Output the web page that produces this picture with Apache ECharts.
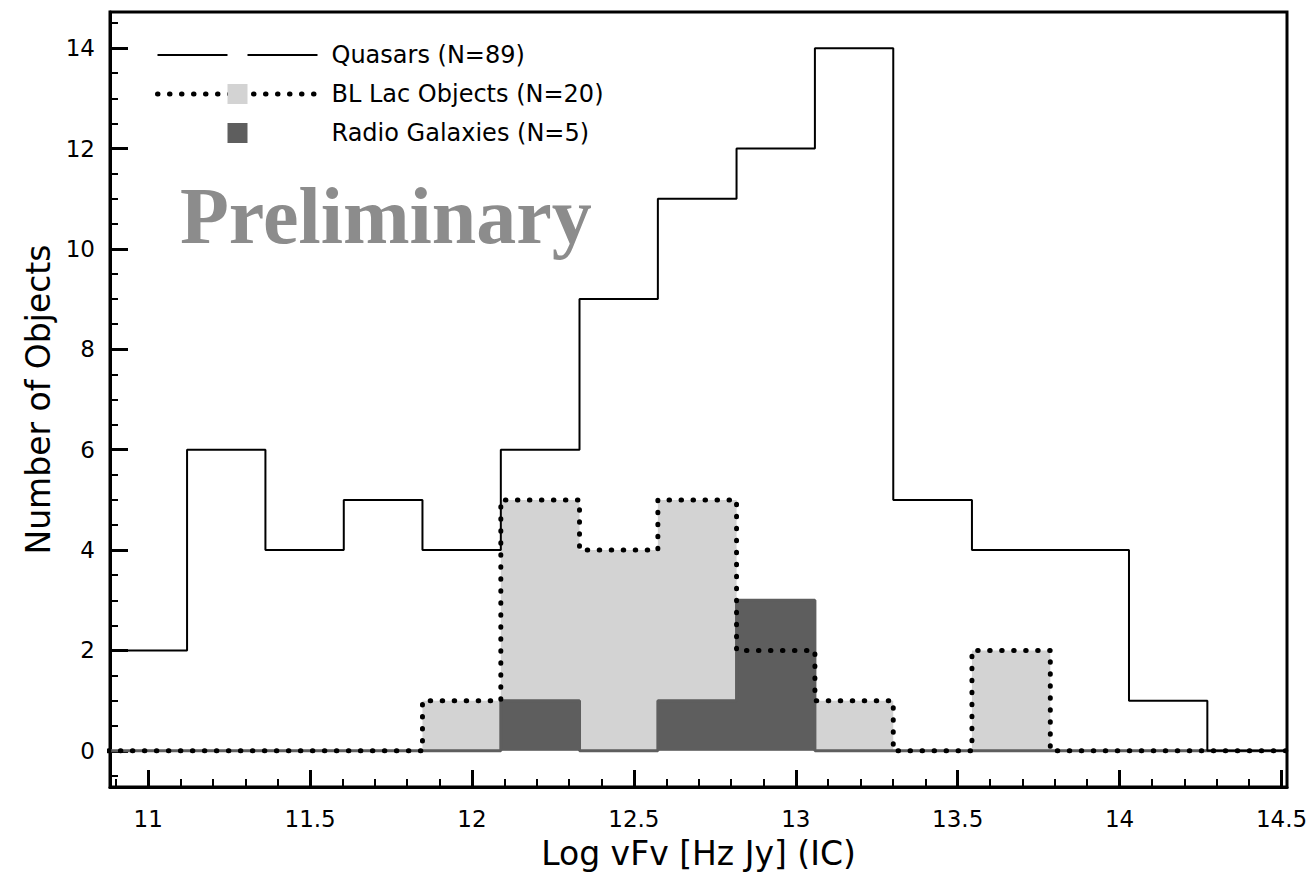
<!DOCTYPE html>
<html>
<head>
<meta charset="utf-8">
<title>Log vFv (IC) distribution</title>
<script src="https://cdn.jsdelivr.net/npm/echarts@6/dist/echarts.min.js"></script>
<style>
  html, body { margin: 0; padding: 0; background: #ffffff; }
  #chart { width: 1307px; height: 874px; }
</style>
</head>
<body>
<div id="chart"></div>
<script>
// Histogram bin edges (Log vFv) and object counts per bin
const binEdges = [10.877, 11.120, 11.362, 11.604, 11.847, 12.089, 12.332, 12.574,
                  12.817, 13.059, 13.301, 13.544, 13.786, 14.029, 14.271, 14.514];
const quasarCounts      = [2, 6, 4, 5, 4, 6, 9, 11, 12, 14, 5, 4, 4, 1, 0];
const blLacCounts       = [0, 0, 0, 0, 1, 5, 4, 5, 2, 1, 0, 2, 0, 0, 0];
const radioGalaxyCounts = [0, 0, 0, 0, 0, 1, 0, 1, 3, 0, 0, 0, 0, 0, 0];

const seriesNames = ['Quasars (N=89)', 'BL Lac Objects (N=20)', 'Radio Galaxies (N=5)'];

// Axis ticks and labels
const xMajorTicks = [11, 11.5, 12, 12.5, 13, 13.5, 14, 14.5];
const xMinorTicks = [10.9, 11.1, 11.2, 11.3, 11.4, 11.6, 11.7, 11.8, 11.9, 12.1, 12.2, 12.3, 12.4,
                     12.6, 12.7, 12.8, 12.9, 13.1, 13.2, 13.3, 13.4, 13.6, 13.7, 13.8, 13.9,
                     14.1, 14.2, 14.3, 14.4];
const yMajorTicks = [0, 2, 4, 6, 8, 10, 12, 14];
const yMinorTicks = [-0.5, 0.5, 1, 1.5, 2.5, 3, 3.5, 4.5, 5, 5.5, 6.5, 7, 7.5, 8.5, 9, 9.5,
                     10.5, 11, 11.5, 12.5, 13, 13.5, 14.5];

const xRange = [10.882, 14.517];
const yRange = [-0.72, 14.72];

const FONT = 'DejaVu Sans';
const LIGHT = '#d3d3d3';
const DARK = '#5e5e5e';
const DOTTED = { color: '#000', width: 5, type: [0.5, 11.5], cap: 'round' };

// Turn bin edges + counts into step points: [left edge, count] ... [last right edge, last count]
function stepPoints(counts) {
  const pts = counts.map((c, i) => [binEdges[i], c]);
  pts.push([binEdges[counts.length], counts[counts.length - 1]]);
  return pts;
}

const baseSeries = {
  type: 'line',
  step: 'end',
  xAxisIndex: 0,
  yAxisIndex: 0,
  showSymbol: false,
  symbol: 'rect',
  silent: true,
  animation: false,
  emphasis: { disabled: true }
};

const chart = echarts.init(document.getElementById('chart'), null, { renderer: 'svg' });

chart.setOption({
  backgroundColor: '#ffffff',
  animation: false,
  grid: {
    left: 110, right: 20, top: 12, bottom: 87,
    containLabel: false,
    outerBoundsMode: 'none',
    show: true,
    borderColor: '#000',
    borderWidth: 3
  },
  legend: {
    orient: 'vertical',
    left: 150,
    top: 38,
    itemWidth: 160,
    itemHeight: 25,
    itemGap: 15,
    selectedMode: false,
    itemStyle: { borderWidth: 0 },
    textStyle: { fontFamily: FONT, fontSize: 24, color: '#000', padding: [0, 0, 0, 9] },
    data: [
      { name: seriesNames[0] },
      { name: seriesNames[1], lineStyle: DOTTED },
      { name: seriesNames[2], lineStyle: { opacity: 0, color: 'rgba(0,0,0,0)' } }
    ]
  },
  xAxis: [
    {
      type: 'value',
      min: xRange[0], max: xRange[1],
      position: 'bottom',
      name: 'Log vFv [Hz Jy] (IC)',
      nameLocation: 'middle',
      nameGap: 50,
      nameTextStyle: { fontFamily: FONT, fontSize: 33, color: '#000' },
      axisLine: { show: true, onZero: false, lineStyle: { color: '#000', width: 3 } },
      axisTick: { show: true, inside: true, length: 17, customValues: xMajorTicks,
                  lineStyle: { color: '#000', width: 3 } },
      axisLabel: { show: true, customValues: xMajorTicks, margin: 20,
                   fontFamily: FONT, fontSize: 23, color: '#000' },
      splitLine: { show: false }
    },
    {
      type: 'value',
      min: xRange[0], max: xRange[1],
      position: 'bottom',
      axisLine: { show: false, onZero: false },
      axisTick: { show: true, inside: true, length: 8, customValues: xMinorTicks,
                  lineStyle: { color: '#000', width: 2 } },
      axisLabel: { show: false },
      splitLine: { show: false }
    }
  ],
  yAxis: [
    {
      type: 'value',
      min: yRange[0], max: yRange[1],
      position: 'left',
      name: 'Number of Objects',
      nameLocation: 'middle',
      nameGap: 52,
      nameRotate: 90,
      nameTextStyle: { fontFamily: FONT, fontSize: 33, color: '#000' },
      axisLine: { show: true, onZero: false, lineStyle: { color: '#000', width: 3 } },
      axisTick: { show: true, inside: true, length: 18, customValues: yMajorTicks,
                  lineStyle: { color: '#000', width: 3 } },
      axisLabel: { show: true, customValues: yMajorTicks, margin: 15,
                   fontFamily: FONT, fontSize: 23, color: '#000' },
      splitLine: { show: false }
    },
    {
      type: 'value',
      min: yRange[0], max: yRange[1],
      position: 'left',
      axisLine: { show: false, onZero: false },
      axisTick: { show: true, inside: true, length: 8, customValues: yMinorTicks,
                  lineStyle: { color: '#000', width: 2 } },
      axisLabel: { show: false },
      splitLine: { show: false }
    }
  ],
  graphic: [
    {
      type: 'text',
      left: 180,
      top: 176,
      silent: true,
      style: {
        text: 'Preliminary',
        fontFamily: 'Liberation Serif',
        fontWeight: 'bold',
        fontSize: 80,
        fill: '#8c8c8c'
      }
    }
  ],
  series: [
    // light fill under the BL Lac histogram
    Object.assign({}, baseSeries, {
      name: 'BL Lac fill',
      symbol: 'none',
      z: 2,
      data: stepPoints(blLacCounts),
      lineStyle: { width: 0, opacity: 0 },
      areaStyle: { color: LIGHT, opacity: 1 }
    }),
    // radio galaxies: dark filled histogram
    Object.assign({}, baseSeries, {
      name: seriesNames[2],
      z: 3,
      data: stepPoints(radioGalaxyCounts),
      itemStyle: { color: DARK, borderWidth: 0 },
      lineStyle: { color: DARK, width: 3 },
      areaStyle: { color: DARK, opacity: 1 }
    }),
    // BL Lac outline, dotted
    Object.assign({}, baseSeries, {
      name: seriesNames[1],
      z: 4,
      data: stepPoints(blLacCounts),
      itemStyle: { color: LIGHT, borderWidth: 0 },
      lineStyle: DOTTED
    }),
    // quasars: solid outline only
    Object.assign({}, baseSeries, {
      name: seriesNames[0],
      z: 5,
      data: stepPoints(quasarCounts),
      itemStyle: { color: '#ffffff', borderWidth: 0 },
      lineStyle: { color: '#000', width: 2 }
    })
  ]
});
</script>
</body>
</html>
